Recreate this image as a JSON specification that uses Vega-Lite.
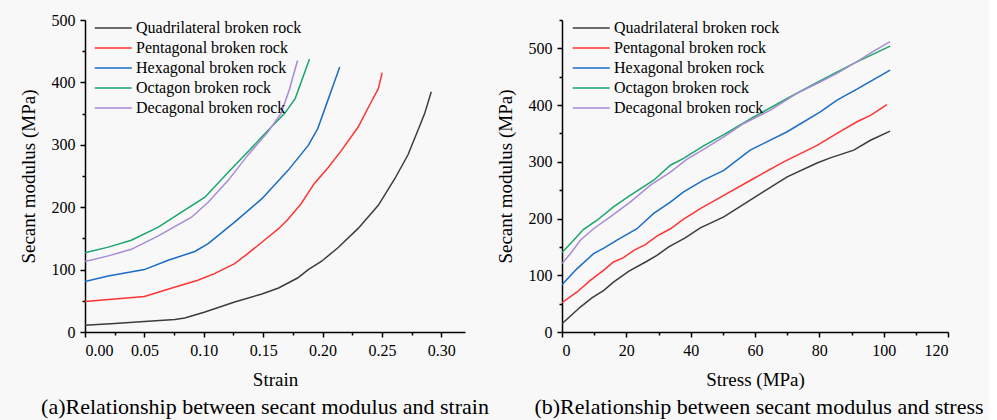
{
  "$schema": "https://vega.github.io/schema/vega-lite/v6.json",
  "background": "#f8f8f8",
  "padding": {"left": 19, "top": 12, "right": 5, "bottom": 5},
  "config": {
    "font": "Liberation Serif",
    "view": {"stroke": null},
    "style": {
      "guide-label": {"font": "Liberation Serif", "fontSize": 16, "fill": "#000000"},
      "guide-title": {"font": "Liberation Serif", "fontSize": 19, "fontWeight": "normal", "fill": "#000000"}
    },
    "axis": {
      "grid": false,
      "domainColor": "#000000",
      "domainWidth": 1.5,
      "tickColor": "#000000",
      "tickWidth": 1.5,
      "tickSize": 5,
      "labelFont": "Liberation Serif",
      "labelFontSize": 16,
      "labelColor": "#000000",
      "labelPadding": 5,
      "labelOverlap": false,
      "titleFont": "Liberation Serif",
      "titleFontSize": 19,
      "titleFontWeight": "normal",
      "titleColor": "#000000"
    },
    "axisX": {"titlePadding": 12},
    "axisY": {"titlePadding": 13},
    "legend": {
      "orient": "none",
      "title": null,
      "symbolType": "M-1,0H3",
      "symbolSize": 342,
      "symbolStrokeWidth": 1.5,
      "labelFont": "Liberation Serif",
      "labelFontSize": 16,
      "labelColor": "#000000",
      "labelOffset": 22,
      "labelLimit": 0,
      "padding": 0,
      "rowPadding": 2
    },
    "title": {
      "font": "Liberation Serif",
      "fontSize": 22,
      "fontWeight": "normal",
      "color": "#000000",
      "orient": "bottom",
      "anchor": "middle",
      "offset": 8
    },
    "line": {"strokeWidth": 1.5}
  },
  "datasets": {
    "strain": [
      {"rock": "Quadrilateral broken rock", "strain": 0, "modulus": 10.7},
      {"rock": "Quadrilateral broken rock", "strain": 0.025, "modulus": 13.5},
      {"rock": "Quadrilateral broken rock", "strain": 0.05, "modulus": 17},
      {"rock": "Quadrilateral broken rock", "strain": 0.0757, "modulus": 20},
      {"rock": "Quadrilateral broken rock", "strain": 0.084, "modulus": 22.4},
      {"rock": "Quadrilateral broken rock", "strain": 0.101, "modulus": 32},
      {"rock": "Quadrilateral broken rock", "strain": 0.126, "modulus": 48},
      {"rock": "Quadrilateral broken rock", "strain": 0.149, "modulus": 61},
      {"rock": "Quadrilateral broken rock", "strain": 0.163, "modulus": 70.5},
      {"rock": "Quadrilateral broken rock", "strain": 0.179, "modulus": 86.5},
      {"rock": "Quadrilateral broken rock", "strain": 0.188, "modulus": 100},
      {"rock": "Quadrilateral broken rock", "strain": 0.199, "modulus": 113},
      {"rock": "Quadrilateral broken rock", "strain": 0.213, "modulus": 135},
      {"rock": "Quadrilateral broken rock", "strain": 0.23, "modulus": 166},
      {"rock": "Quadrilateral broken rock", "strain": 0.247, "modulus": 203},
      {"rock": "Quadrilateral broken rock", "strain": 0.261, "modulus": 246},
      {"rock": "Quadrilateral broken rock", "strain": 0.272, "modulus": 284},
      {"rock": "Quadrilateral broken rock", "strain": 0.282, "modulus": 331},
      {"rock": "Quadrilateral broken rock", "strain": 0.286, "modulus": 350},
      {"rock": "Quadrilateral broken rock", "strain": 0.2916, "modulus": 385},
      {"rock": "Pentagonal broken rock", "strain": 0, "modulus": 49},
      {"rock": "Pentagonal broken rock", "strain": 0.025, "modulus": 53},
      {"rock": "Pentagonal broken rock", "strain": 0.05, "modulus": 57},
      {"rock": "Pentagonal broken rock", "strain": 0.076, "modulus": 72},
      {"rock": "Pentagonal broken rock", "strain": 0.095, "modulus": 83},
      {"rock": "Pentagonal broken rock", "strain": 0.109, "modulus": 93.5},
      {"rock": "Pentagonal broken rock", "strain": 0.126, "modulus": 109.5},
      {"rock": "Pentagonal broken rock", "strain": 0.137, "modulus": 125.5},
      {"rock": "Pentagonal broken rock", "strain": 0.151, "modulus": 147},
      {"rock": "Pentagonal broken rock", "strain": 0.163, "modulus": 165.6},
      {"rock": "Pentagonal broken rock", "strain": 0.171, "modulus": 180.6},
      {"rock": "Pentagonal broken rock", "strain": 0.182, "modulus": 205.6},
      {"rock": "Pentagonal broken rock", "strain": 0.193, "modulus": 237.7},
      {"rock": "Pentagonal broken rock", "strain": 0.205, "modulus": 264},
      {"rock": "Pentagonal broken rock", "strain": 0.216, "modulus": 291},
      {"rock": "Pentagonal broken rock", "strain": 0.23, "modulus": 328.5},
      {"rock": "Pentagonal broken rock", "strain": 0.241, "modulus": 368.6},
      {"rock": "Pentagonal broken rock", "strain": 0.247, "modulus": 390},
      {"rock": "Pentagonal broken rock", "strain": 0.2503, "modulus": 415.6},
      {"rock": "Hexagonal broken rock", "strain": 0, "modulus": 81},
      {"rock": "Hexagonal broken rock", "strain": 0.0196, "modulus": 89.7},
      {"rock": "Hexagonal broken rock", "strain": 0.05, "modulus": 100},
      {"rock": "Hexagonal broken rock", "strain": 0.07, "modulus": 115},
      {"rock": "Hexagonal broken rock", "strain": 0.0925, "modulus": 129},
      {"rock": "Hexagonal broken rock", "strain": 0.1037, "modulus": 141.5},
      {"rock": "Hexagonal broken rock", "strain": 0.126, "modulus": 176},
      {"rock": "Hexagonal broken rock", "strain": 0.149, "modulus": 213.7},
      {"rock": "Hexagonal broken rock", "strain": 0.171, "modulus": 259},
      {"rock": "Hexagonal broken rock", "strain": 0.188, "modulus": 299},
      {"rock": "Hexagonal broken rock", "strain": 0.196, "modulus": 326},
      {"rock": "Hexagonal broken rock", "strain": 0.205, "modulus": 374},
      {"rock": "Hexagonal broken rock", "strain": 0.21, "modulus": 400.6},
      {"rock": "Hexagonal broken rock", "strain": 0.2145, "modulus": 424.7},
      {"rock": "Octagon broken rock", "strain": 0, "modulus": 127},
      {"rock": "Octagon broken rock", "strain": 0.0196, "modulus": 136},
      {"rock": "Octagon broken rock", "strain": 0.039, "modulus": 147},
      {"rock": "Octagon broken rock", "strain": 0.0617, "modulus": 168},
      {"rock": "Octagon broken rock", "strain": 0.0813, "modulus": 192},
      {"rock": "Octagon broken rock", "strain": 0.101, "modulus": 216},
      {"rock": "Octagon broken rock", "strain": 0.1206, "modulus": 256},
      {"rock": "Octagon broken rock", "strain": 0.137, "modulus": 288.5},
      {"rock": "Octagon broken rock", "strain": 0.154, "modulus": 323},
      {"rock": "Octagon broken rock", "strain": 0.168, "modulus": 350},
      {"rock": "Octagon broken rock", "strain": 0.177, "modulus": 374},
      {"rock": "Octagon broken rock", "strain": 0.189, "modulus": 437},
      {"rock": "Decagonal broken rock", "strain": 0, "modulus": 113},
      {"rock": "Decagonal broken rock", "strain": 0.0196, "modulus": 122},
      {"rock": "Decagonal broken rock", "strain": 0.039, "modulus": 132.5},
      {"rock": "Decagonal broken rock", "strain": 0.0617, "modulus": 154},
      {"rock": "Decagonal broken rock", "strain": 0.0897, "modulus": 184},
      {"rock": "Decagonal broken rock", "strain": 0.1037, "modulus": 208},
      {"rock": "Decagonal broken rock", "strain": 0.1206, "modulus": 243},
      {"rock": "Decagonal broken rock", "strain": 0.137, "modulus": 283},
      {"rock": "Decagonal broken rock", "strain": 0.154, "modulus": 320.5},
      {"rock": "Decagonal broken rock", "strain": 0.165, "modulus": 350},
      {"rock": "Decagonal broken rock", "strain": 0.172, "modulus": 387.8},
      {"rock": "Decagonal broken rock", "strain": 0.1766, "modulus": 419},
      {"rock": "Decagonal broken rock", "strain": 0.179, "modulus": 435}
    ],
    "stress": [
      {"rock": "Quadrilateral broken rock", "stress": 0, "modulus": 14.7},
      {"rock": "Quadrilateral broken rock", "stress": 5.7, "modulus": 44},
      {"rock": "Quadrilateral broken rock", "stress": 9.3, "modulus": 60},
      {"rock": "Quadrilateral broken rock", "stress": 13, "modulus": 73.5},
      {"rock": "Quadrilateral broken rock", "stress": 16, "modulus": 88},
      {"rock": "Quadrilateral broken rock", "stress": 20.7, "modulus": 107},
      {"rock": "Quadrilateral broken rock", "stress": 26.4, "modulus": 124.7},
      {"rock": "Quadrilateral broken rock", "stress": 29.5, "modulus": 135},
      {"rock": "Quadrilateral broken rock", "stress": 33.2, "modulus": 150},
      {"rock": "Quadrilateral broken rock", "stress": 38.3, "modulus": 166},
      {"rock": "Quadrilateral broken rock", "stress": 43, "modulus": 183.5},
      {"rock": "Quadrilateral broken rock", "stress": 50.3, "modulus": 203},
      {"rock": "Quadrilateral broken rock", "stress": 59.6, "modulus": 236.5},
      {"rock": "Quadrilateral broken rock", "stress": 70, "modulus": 273.5},
      {"rock": "Quadrilateral broken rock", "stress": 79.3, "modulus": 298},
      {"rock": "Quadrilateral broken rock", "stress": 83.4, "modulus": 307},
      {"rock": "Quadrilateral broken rock", "stress": 90.7, "modulus": 320.6},
      {"rock": "Quadrilateral broken rock", "stress": 95.9, "modulus": 338},
      {"rock": "Quadrilateral broken rock", "stress": 102, "modulus": 354},
      {"rock": "Pentagonal broken rock", "stress": 0, "modulus": 51.8},
      {"rock": "Pentagonal broken rock", "stress": 4.7, "modulus": 70.6},
      {"rock": "Pentagonal broken rock", "stress": 8.8, "modulus": 91},
      {"rock": "Pentagonal broken rock", "stress": 13, "modulus": 109},
      {"rock": "Pentagonal broken rock", "stress": 16, "modulus": 123.5},
      {"rock": "Pentagonal broken rock", "stress": 19, "modulus": 130.6},
      {"rock": "Pentagonal broken rock", "stress": 22.3, "modulus": 144},
      {"rock": "Pentagonal broken rock", "stress": 25.9, "modulus": 154},
      {"rock": "Pentagonal broken rock", "stress": 29.5, "modulus": 169},
      {"rock": "Pentagonal broken rock", "stress": 33.7, "modulus": 182},
      {"rock": "Pentagonal broken rock", "stress": 37.8, "modulus": 199},
      {"rock": "Pentagonal broken rock", "stress": 43, "modulus": 217.6},
      {"rock": "Pentagonal broken rock", "stress": 50.3, "modulus": 241},
      {"rock": "Pentagonal broken rock", "stress": 59.6, "modulus": 270.6},
      {"rock": "Pentagonal broken rock", "stress": 68.9, "modulus": 300},
      {"rock": "Pentagonal broken rock", "stress": 79.3, "modulus": 329},
      {"rock": "Pentagonal broken rock", "stress": 85.5, "modulus": 350},
      {"rock": "Pentagonal broken rock", "stress": 91.7, "modulus": 370.6},
      {"rock": "Pentagonal broken rock", "stress": 95.9, "modulus": 382},
      {"rock": "Pentagonal broken rock", "stress": 101, "modulus": 401},
      {"rock": "Hexagonal broken rock", "stress": 0, "modulus": 83.5},
      {"rock": "Hexagonal broken rock", "stress": 4.7, "modulus": 111.8},
      {"rock": "Hexagonal broken rock", "stress": 9.8, "modulus": 138},
      {"rock": "Hexagonal broken rock", "stress": 13, "modulus": 148},
      {"rock": "Hexagonal broken rock", "stress": 17.1, "modulus": 161.8},
      {"rock": "Hexagonal broken rock", "stress": 23.3, "modulus": 182},
      {"rock": "Hexagonal broken rock", "stress": 28.5, "modulus": 209},
      {"rock": "Hexagonal broken rock", "stress": 33.7, "modulus": 229},
      {"rock": "Hexagonal broken rock", "stress": 37.8, "modulus": 247},
      {"rock": "Hexagonal broken rock", "stress": 44, "modulus": 267.6},
      {"rock": "Hexagonal broken rock", "stress": 50.3, "modulus": 285},
      {"rock": "Hexagonal broken rock", "stress": 58.5, "modulus": 320.6},
      {"rock": "Hexagonal broken rock", "stress": 70, "modulus": 353},
      {"rock": "Hexagonal broken rock", "stress": 80.3, "modulus": 388},
      {"rock": "Hexagonal broken rock", "stress": 85.5, "modulus": 408.8},
      {"rock": "Hexagonal broken rock", "stress": 91.7, "modulus": 428},
      {"rock": "Hexagonal broken rock", "stress": 102, "modulus": 461.8},
      {"rock": "Octagon broken rock", "stress": 0, "modulus": 140},
      {"rock": "Octagon broken rock", "stress": 3.6, "modulus": 161.8},
      {"rock": "Octagon broken rock", "stress": 6.7, "modulus": 181},
      {"rock": "Octagon broken rock", "stress": 10.9, "modulus": 197},
      {"rock": "Octagon broken rock", "stress": 16, "modulus": 220.6},
      {"rock": "Octagon broken rock", "stress": 21.2, "modulus": 241},
      {"rock": "Octagon broken rock", "stress": 28.5, "modulus": 267.6},
      {"rock": "Octagon broken rock", "stress": 33.7, "modulus": 294},
      {"rock": "Octagon broken rock", "stress": 37.8, "modulus": 306},
      {"rock": "Octagon broken rock", "stress": 44, "modulus": 328},
      {"rock": "Octagon broken rock", "stress": 50.3, "modulus": 348},
      {"rock": "Octagon broken rock", "stress": 59.6, "modulus": 379},
      {"rock": "Octagon broken rock", "stress": 71, "modulus": 414.7},
      {"rock": "Octagon broken rock", "stress": 79.3, "modulus": 440},
      {"rock": "Octagon broken rock", "stress": 90.7, "modulus": 473.5},
      {"rock": "Octagon broken rock", "stress": 102, "modulus": 504},
      {"rock": "Decagonal broken rock", "stress": 0, "modulus": 120.6},
      {"rock": "Decagonal broken rock", "stress": 2.6, "modulus": 138},
      {"rock": "Decagonal broken rock", "stress": 5.7, "modulus": 161.8},
      {"rock": "Decagonal broken rock", "stress": 9.8, "modulus": 182},
      {"rock": "Decagonal broken rock", "stress": 15, "modulus": 203},
      {"rock": "Decagonal broken rock", "stress": 21.2, "modulus": 229},
      {"rock": "Decagonal broken rock", "stress": 27.5, "modulus": 258.8},
      {"rock": "Decagonal broken rock", "stress": 33.7, "modulus": 282},
      {"rock": "Decagonal broken rock", "stress": 38.9, "modulus": 304.7},
      {"rock": "Decagonal broken rock", "stress": 44, "modulus": 322},
      {"rock": "Decagonal broken rock", "stress": 50.3, "modulus": 344},
      {"rock": "Decagonal broken rock", "stress": 56.5, "modulus": 367.6},
      {"rock": "Decagonal broken rock", "stress": 64.8, "modulus": 391},
      {"rock": "Decagonal broken rock", "stress": 73, "modulus": 420.6},
      {"rock": "Decagonal broken rock", "stress": 79.3, "modulus": 438},
      {"rock": "Decagonal broken rock", "stress": 85.5, "modulus": 456},
      {"rock": "Decagonal broken rock", "stress": 91.7, "modulus": 476.5},
      {"rock": "Decagonal broken rock", "stress": 96.9, "modulus": 495},
      {"rock": "Decagonal broken rock", "stress": 102, "modulus": 511.8}
    ]
  },
  "spacing": 7,
  "hconcat": [
    {
      "title": {"text": "(a)Relationship between secant modulus and strain", "dx": -10},
      "width": 380,
      "height": 312,
      "data": {"name": "strain"},
      "mark": {"type": "line", "clip": true},
      "encoding": {
        "x": {
          "field": "strain",
          "type": "quantitative",
          "scale": {"domain": [0, 0.32], "nice": false, "zero": false},
          "axis": {
            "title": "Strain",
            "values": [0, 0.025, 0.05, 0.075, 0.1, 0.125, 0.15, 0.175, 0.2, 0.225, 0.25, 0.275, 0.3],
            "labelExpr": "round(datum.value * 1000) % 50 == 0 ? format(datum.value, '.2f') : ''",
            "tickSize": {"condition": {"test": "round(datum.value * 1000) % 50 != 0", "value": 3}, "value": 5}
          }
        },
        "y": {
          "field": "modulus",
          "type": "quantitative",
          "scale": {"domain": [0, 500], "nice": false},
          "axis": {
            "title": "Secant modulus (MPa)",
            "values": [0, 50, 100, 150, 200, 250, 300, 350, 400, 450, 500],
            "labelExpr": "datum.value % 100 == 0 ? datum.label : ''",
            "tickSize": {"condition": {"test": "datum.value % 100 != 0", "value": 3}, "value": 5}
          }
        },
        "color": {
          "field": "rock",
          "type": "nominal",
          "scale": {
            "domain": ["Quadrilateral broken rock", "Pentagonal broken rock", "Hexagonal broken rock", "Octagon broken rock", "Decagonal broken rock"],
            "range": ["#3c3c3c", "#ff3333", "#1a6cc4", "#18a56c", "#a98ad4"]
          },
          "legend": {"legendX": 9, "legendY": -2}
        }
      }
    },
    {
      "title": {"text": "(b)Relationship between secant modulus and stress", "dx": 4},
      "width": 386,
      "height": 312,
      "data": {"name": "stress"},
      "mark": {"type": "line", "clip": true},
      "encoding": {
        "x": {
          "field": "stress",
          "type": "quantitative",
          "scale": {"domain": [0, 120], "nice": false},
          "axis": {
            "title": "Stress (MPa)",
            "values": [0, 10, 20, 30, 40, 50, 60, 70, 80, 90, 100, 110, 120],
            "labelExpr": "datum.value % 20 == 0 ? datum.label : ''",
            "tickSize": {"condition": {"test": "datum.value % 20 != 0", "value": 3}, "value": 5}
          }
        },
        "y": {
          "field": "modulus",
          "type": "quantitative",
          "scale": {"domain": [0, 550], "nice": false},
          "axis": {
            "title": "Secant modulus (MPa)",
            "values": [0, 50, 100, 150, 200, 250, 300, 350, 400, 450, 500, 550],
            "labelExpr": "datum.value % 100 == 0 ? datum.label : ''",
            "tickSize": {"condition": {"test": "datum.value % 100 != 0", "value": 3}, "value": 5}
          }
        },
        "color": {
          "field": "rock",
          "type": "nominal",
          "scale": {
            "domain": ["Quadrilateral broken rock", "Pentagonal broken rock", "Hexagonal broken rock", "Octagon broken rock", "Decagonal broken rock"],
            "range": ["#3c3c3c", "#ff3333", "#1a6cc4", "#18a56c", "#a98ad4"]
          },
          "legend": {"legendX": 10, "legendY": -2}
        }
      }
    }
  ],
  "resolve": {"scale": {"color": "independent"}, "legend": {"color": "independent"}}
}
